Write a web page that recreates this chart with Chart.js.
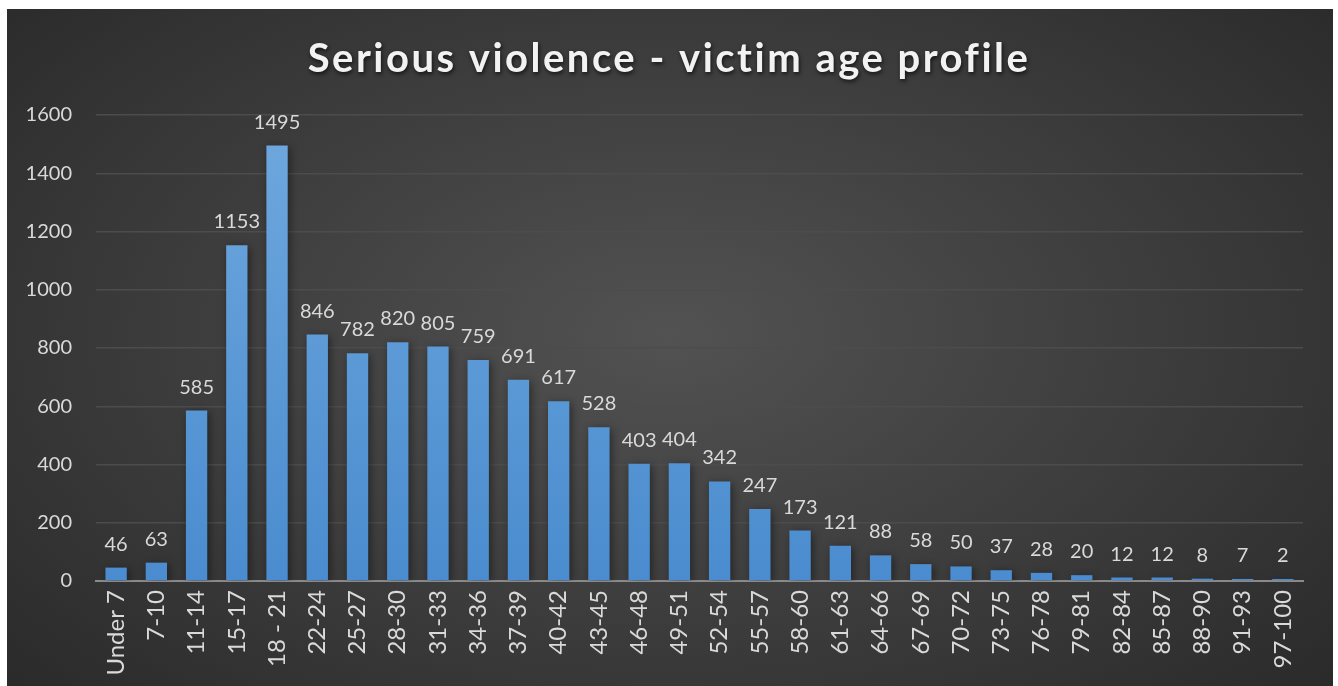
<!DOCTYPE html>
<html>
<head>
<meta charset="utf-8">
<script src="https://cdn.jsdelivr.net/npm/chart.js@4.4.1/dist/chart.umd.min.js"></script>
<style>
  html, body { margin: 0; padding: 0; background: #ffffff; }
  #panel {
    position: absolute; left: 7px; top: 9px; width: 1326px; height: 677px;
    background: radial-gradient(ellipse 75% 85% at 50% 48%, #525252 0%, #3a3a3a 55%, #262626 100%);
  }
  canvas { display: block; }
</style>
</head>
<body>
<div id="panel"><canvas id="c" width="1326" height="677"></canvas></div>
<script>
const chartTitle = 'Serious violence - victim age profile';
const ageBands = ['Under 7', '7-10', '11-14', '15-17', '18 - 21', '22-24', '25-27', '28-30', '31-33', '34-36',
  '37-39', '40-42', '43-45', '46-48', '49-51', '52-54', '55-57', '58-60', '61-63', '64-66',
  '67-69', '70-72', '73-75', '76-78', '79-81', '82-84', '85-87', '88-90', '91-93', '97-100'];
const victimCounts = [46, 63, 585, 1153, 1495, 846, 782, 820, 805, 759,
  691, 617, 528, 403, 404, 342, 247, 173, 121, 88,
  58, 50, 37, 28, 20, 12, 12, 8, 7, 2];
const yTicks = [0, 200, 400, 600, 800, 1000, 1200, 1400, 1600];

const FONT = 'Lato, "Open Sans", sans-serif';
const TEXT = '#d9d9d9';

// Title drawn with spacing between letters and a soft shadow
const titlePlugin = {
  id: 'spacedTitle',
  afterDraw(chart) {
    const ctx = chart.ctx;
    ctx.save();
    ctx.font = 'bold 40px ' + FONT;
    ctx.letterSpacing = '2.5px';
    ctx.fillStyle = '#f2f2f2';
    ctx.textAlign = 'center';
    ctx.textBaseline = 'alphabetic';
    ctx.shadowColor = 'rgba(0,0,0,0.7)';
    ctx.shadowBlur = 4;
    ctx.shadowOffsetX = 1;
    ctx.shadowOffsetY = 2;
    ctx.fillText(chartTitle, chart.width / 2 - 1, 63);
    ctx.restore();
  }
};

// Value labels above every bar
const valueLabels = {
  id: 'valueLabels',
  afterDatasetsDraw(chart) {
    const ctx = chart.ctx;
    const meta = chart.getDatasetMeta(0);
    ctx.save();
    ctx.font = '20px ' + FONT;
    ctx.fillStyle = TEXT;
    ctx.textAlign = 'center';
    ctx.textBaseline = 'alphabetic';
    meta.data.forEach((bar, i) => {
      ctx.fillText(String(chart.data.datasets[0].data[i]), bar.x, bar.y - 17);
    });
    ctx.restore();
  }
};

// Vertical blue gradient for the bars
function barFill(context) {
  const chart = context.chart;
  const area = chart.chartArea;
  if (!area) return '#5b9bd5';
  const g = chart.ctx.createLinearGradient(0, area.top, 0, area.bottom);
  g.addColorStop(0, '#6fa8de');
  g.addColorStop(1, '#4a8ccf');
  return g;
}

const shadowPlugin = {
  id: 'barShadow',
  beforeDatasetsDraw(chart) {
    const ctx = chart.ctx;
    ctx.save();
    ctx.shadowColor = 'rgba(0,0,0,0.45)';
    ctx.shadowBlur = 8;
    ctx.shadowOffsetX = 2;
    ctx.shadowOffsetY = 2;
  },
  afterDatasetsDraw(chart) {
    chart.ctx.restore();
  }
};

new Chart(document.getElementById('c'), {
  type: 'bar',
  data: {
    labels: ageBands,
    datasets: [{
      data: victimCounts,
      backgroundColor: barFill,
      borderWidth: 0,
      minBarLength: 2,
      categoryPercentage: 1.0,
      barPercentage: 0.53
    }]
  },
  options: {
    responsive: false,
    animation: false,
    events: [],
    layout: { padding: { top: 106, right: 30, left: 0, bottom: 0 } },
    plugins: {
      legend: { display: false },
      title: { display: false },
      tooltip: { enabled: false }
    },
    scales: {
      x: {
        grid: { display: false, drawTicks: false },
        border: { display: true, color: '#8a8a8a', width: 2 },
        ticks: {
          color: TEXT,
          font: { family: FONT, size: 24 },
          minRotation: 90, maxRotation: 90,
          padding: 9,
          autoSkip: false
        },
        afterFit(scale) { scale.height = 105; }
      },
      y: {
        min: 0, max: 1600,
        afterBuildTicks(scale) { scale.ticks = yTicks.map(v => ({ value: v })); },
        grid: { color: '#4c4c4c', lineWidth: 1.5, drawTicks: false },
        border: { display: false },
        ticks: {
          color: TEXT,
          font: { family: FONT, size: 20 },
          padding: 24,
          callback: (v) => String(v)
        },
        afterFit(scale) { scale.width = 89; }
      }
    }
  },
  plugins: [shadowPlugin, valueLabels, titlePlugin]
});
</script>
</body>
</html>
